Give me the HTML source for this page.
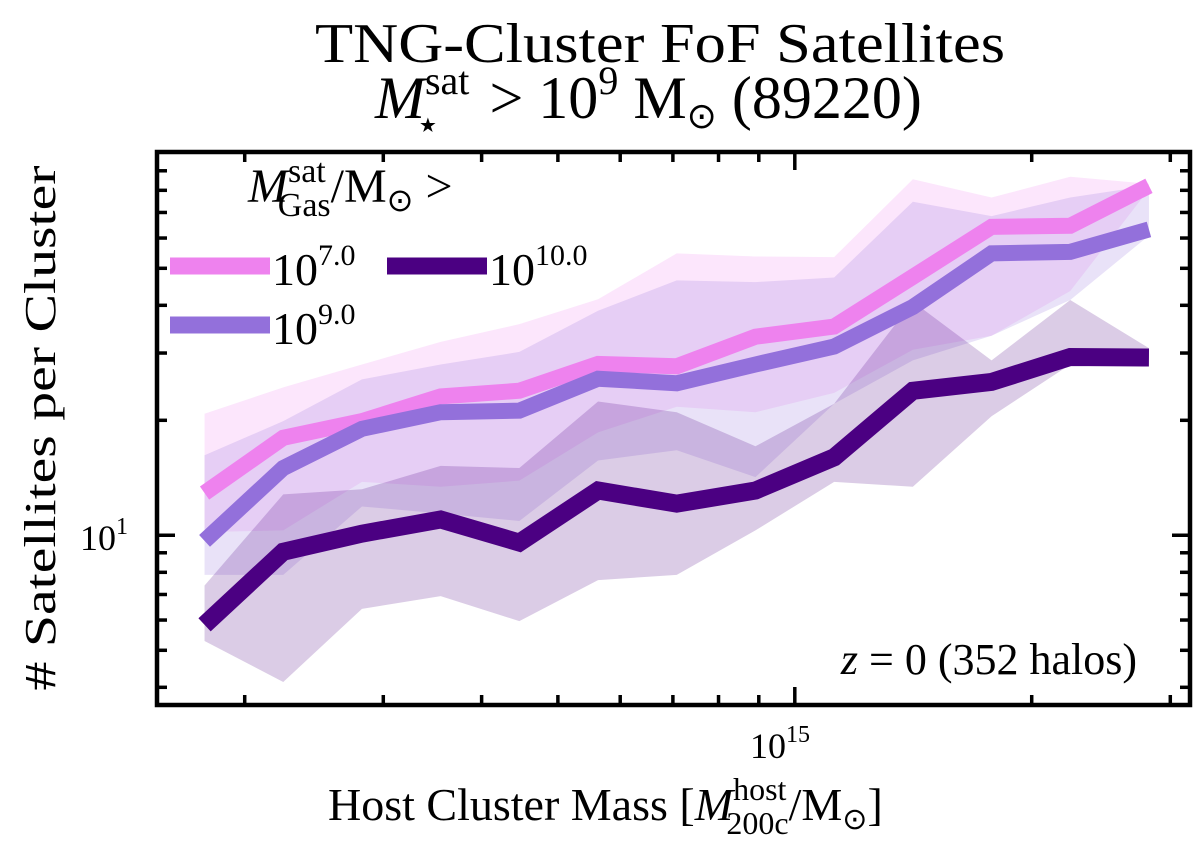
<!DOCTYPE html>
<html><head><meta charset="utf-8"><style>
html,body{margin:0;padding:0;background:#fff;}
svg{display:block;}
text{font-family:"Liberation Serif",serif;fill:#000;}
</style></head><body>
<svg id="chart" width="1200" height="847" viewBox="0 0 1200 847" xmlns="http://www.w3.org/2000/svg">
<g id="bands"></g>
<g id="lines"></g>
<rect x="157" y="152" width="1033" height="553" fill="none" stroke="#000" stroke-width="4.5"/>
<g id="ticks"></g>
<text x="660" y="62" font-size="56" text-anchor="middle" textLength="690" lengthAdjust="spacingAndGlyphs">TNG-Cluster FoF Satellites</text>
<text x="375" y="118" font-size="60"><tspan font-style="italic">M</tspan><tspan font-size="40" dy="-24">sat</tspan><tspan font-size="40" dx="-54" dy="44">⋆</tspan><tspan dy="-20" dx="34"> &gt; 10</tspan><tspan font-size="40" dy="-24">9</tspan><tspan dy="24"> M</tspan><tspan font-size="36" dy="10">⊙</tspan><tspan dy="-10"> (89220)</tspan></text>
<text transform="translate(55,428) rotate(-90)" font-size="44" text-anchor="middle" textLength="525" lengthAdjust="spacingAndGlyphs"># Satellites per Cluster</text>
<text x="328" y="820" font-size="46">Host Cluster Mass [<tspan font-style="italic">M</tspan><tspan font-size="32" dy="-20">host</tspan><tspan font-size="32" dx="-60" dy="34">200c</tspan><tspan dy="-14">/M</tspan><tspan font-size="30" dy="9">⊙</tspan><tspan dy="-9">]</tspan></text>
<text x="80" y="550" font-size="36">10<tspan font-size="24" dy="-16">1</tspan></text>
<text x="750" y="758" font-size="36">10<tspan font-size="24" dy="-16">15</tspan></text>
<text x="1137" y="674" font-size="44" text-anchor="end"><tspan font-style="italic">z</tspan> = 0 (352 halos)</text>
<g>
<text x="248" y="202" font-size="48"><tspan font-style="italic">M</tspan><tspan font-size="34" dy="-20">sat</tspan><tspan font-size="34" dx="-48" dy="34">Gas</tspan><tspan dy="-14">/M</tspan><tspan font-size="32" dy="9">⊙</tspan><tspan dy="-9"> &gt;</tspan></text>
<line x1="170" y1="266" x2="270" y2="266" stroke="#ee82ee" stroke-width="17"/>
<text x="272" y="285" font-size="46">10<tspan font-size="30" dy="-20">7.0</tspan></text>
<line x1="387" y1="266" x2="487" y2="266" stroke="#4b0082" stroke-width="17"/>
<text x="489" y="285" font-size="46">10<tspan font-size="30" dy="-20">10.0</tspan></text>
<line x1="170" y1="325" x2="270" y2="325" stroke="#9370db" stroke-width="17"/>
<text x="272" y="344" font-size="46">10<tspan font-size="30" dy="-20">9.0</tspan></text>
</g>
</svg>
<script>
const logMass = [14.25,14.35,14.45,14.55,14.65,14.75,14.85,14.95,15.05,15.15,15.25,15.35,15.45];
const med7  = [12.9,18.0,19.9,23.1,23.9,28.1,27.7,33.1,35.2,47.5,64.2,64.6,82.2];
const med9  = [9.67,15.0,19.0,21.0,21.2,25.7,25.0,28.0,31.2,39.6,54.7,55.2,63.2];
const med10 = [5.83,9.06,10.1,11.0,9.57,13.1,12.1,13.1,16.0,23.9,25.2,29.3,29.2];
const hi7 = [20.8,24.4,28.0,32.1,35.7,41.5,54.7,53.7,53.5,85.5,76.6,86.8,83.2];
const lo7 = [10.2,10.3,13.8,13.4,13.9,18.6,21.7,21.0,23.6,30.6,33.3,43.6,80.5];
const hi9 = [16.2,19.9,25.6,28.0,30.2,38.7,46.5,46.0,47.3,74.7,68.5,76.6,82.3];
const lo9 = [7.88,7.88,11.9,11.4,10.9,15.7,16.7,14.2,22.1,28.7,33.3,41.3,60.9];
const hi10 = [7.39,12.8,13.2,15.2,15.0,22.4,21.0,17.1,22.1,40.9,28.7,41.3,30.9];
const lo10 = [5.29,4.13,6.42,6.93,5.96,7.63,7.88,10.3,13.8,13.4,20.5,28.0,29.0];
const yMinorTicks = [4,5,6,7,8,9,20,30,40,50,60,70,80,90];
const yMajorTicks = [10];
const xMinorTicks = [2e14,3e14,4e14,5e14,6e14,7e14,8e14,9e14,2e15,3e15];
const xMajorTicks = [1e15];

const NS='http://www.w3.org/2000/svg';
function xs(lm){return 794.8+(lm-15)*787;}
function ys(n){return 535.3-(Math.log10(n)-1)*382;}
function mk(tag,attrs,parent){const e=document.createElementNS(NS,tag);for(const k in attrs)e.setAttribute(k,attrs[k]);parent.appendChild(e);return e;}
const bands=document.getElementById('bands'), lines=document.getElementById('lines'), ticks=document.getElementById('ticks');
const sets=[[hi7,lo7,'#ee82ee','band-1e7'],[hi9,lo9,'#9370db','band-1e9'],[hi10,lo10,'#4b0082','band-1e10']];
sets.forEach(s=>{
  let pts=logMass.map((m,i)=>xs(m)+','+ys(s[0][i]));
  for(let i=logMass.length-1;i>=0;i--)pts.push(xs(logMass[i])+','+ys(s[1][i]));
  const p=mk('polygon',{points:pts.join(' '),fill:s[2],'fill-opacity':'0.2',stroke:'none'},bands);
  
  
});
const ls=[[med7,'#ee82ee',16,'line-1e7'],[med9,'#9370db',16,'line-1e9'],[med10,'#4b0082',18,'line-1e10']];
ls.forEach(s=>{
  const pts=logMass.map((m,i)=>xs(m)+','+ys(s[0][i])).join(' ');
  const p=mk('polyline',{points:pts,fill:'none',stroke:s[1],'stroke-width':s[2],'stroke-linejoin':'miter'},lines);
  
  
});
function tick(x1,y1,x2,y2){const t=mk('line',{x1,y1,x2,y2,stroke:'#000','stroke-width':3.5},ticks);
  
  }
yMinorTicks.forEach(v=>{const y=ys(v);tick(157,y,167,y);tick(1190,y,1180,y);});
yMajorTicks.forEach(v=>{const y=ys(v);tick(157,y,175,y);tick(1190,y,1172,y);});
xMinorTicks.forEach(v=>{const x=xs(Math.log10(v));tick(x,705,x,695);tick(x,152,x,162);});
xMajorTicks.forEach(v=>{const x=xs(Math.log10(v));tick(x,705,x,687);tick(x,152,x,170);});
</script>
</body></html>
